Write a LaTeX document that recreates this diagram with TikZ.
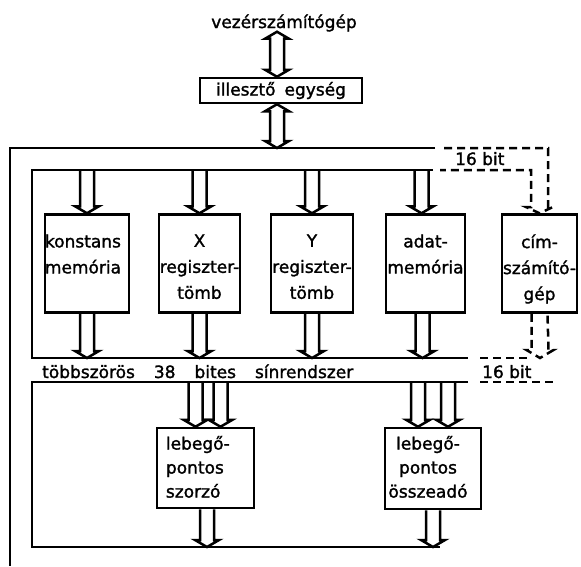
\documentclass[tikz,border=0pt]{standalone}
\usepackage{fontspec}
\newfontfamily\stencil[FakeBold=1.5]{DejaVu Sans}
\usetikzlibrary{calc}

\tikzset{
  busline/.style={line width=2.5pt},
  dashbus/.style={line width=2.5pt, dash pattern=on 8pt off 5pt},
  unit/.style={draw, line width=2.5pt, inner sep=0pt},
  lettering/.style={font=\stencil\fontsize{17pt}{26pt}\selectfont, inner sep=0pt, align=center}
}

% hollow bus arrow: y of start, tip
\newcommand{\busarrow}[2]{%
  \draw[busline] let \p1=(#1), \p2=(#2) in
    (\x2-7pt,\y1) -- (\x2-7pt,\y2+7pt) -- (\x2-12pt,\y2+7pt) -- (\x2,\y2)
    -- (\x2+12pt,\y2+7pt) -- (\x2+7pt,\y2+7pt) -- (\x2+7pt,\y1);}
% hollow arrow with two heads: upper tip, lower tip
\newcommand{\twowayarrow}[2]{%
  \draw[busline] let \p1=(#1), \p2=(#2) in
    (\x1,\y1) -- (\x1+12pt,\y1-7pt) -- (\x1+7pt,\y1-7pt) -- (\x1+7pt,\y2+7pt)
    -- (\x1+12pt,\y2+7pt) -- (\x1,\y2) -- (\x1-12pt,\y2+7pt) -- (\x1-7pt,\y2+7pt)
    -- (\x1-7pt,\y1-7pt) -- (\x1-12pt,\y1-7pt) -- cycle;}
\newcommand{\wordgap}{\hspace{19pt}}

\begin{document}
\begin{tikzpicture}[x=1pt,y=-1pt]
\useasboundingbox (0,0) rectangle (581,566);

% host and interface
\node[lettering, anchor=base] (host) at (284,28) {vezérszámítógép};
\node[unit, minimum width=162pt, minimum height=25pt] (ill) at (281,90.5) {\stencil\fontsize{17pt}{26pt}\selectfont illesztő\hspace{9pt}egység};
\coordinate (link) at ([xshift=-4pt]ill.center);

% bus system
\coordinate (oT) at (10,148);
\coordinate (iT) at (32,170);
\coordinate (mA) at (32,358);
\coordinate (mB) at (32,382);
\coordinate (iB) at (32,547);
\draw[busline] (435,148) -- (oT) -- (10,566);
\draw[busline] (433,170) -- (iT) -- (mA) -- (468,358);
\draw[busline] (468,382) -- (mB) -- (iB) -- (440,547);
\node[lettering, anchor=base west] (buslabel) at (42,378) {többszörös\wordgap 38\wordgap bites\wordgap sínrendszer};

\twowayarrow{link |- host.south}{link |- ill.north};
\twowayarrow{link |- ill.south}{link |- oT};

% units on the upper bus
\node[unit, minimum width=84pt, minimum height=98pt] (konst) at (87,263.5) {};
\node[unit, minimum width=81pt, minimum height=98pt] (xreg) at (199.5,263.5) {};
\node[unit, minimum width=82pt, minimum height=98pt] (yreg) at (312,263.5) {};
\node[unit, minimum width=79pt, minimum height=98pt] (adat) at (425.5,263.5) {};
\node[unit, minimum width=75pt, minimum height=98pt] (cim) at (539.5,263.5) {};
\node[lettering, align=left, anchor=north west] (konsttext) at ([shift={(1pt,-21pt)}]konst.north west) {konstans\\memória};
\node[lettering, anchor=north] (xtext) at ([yshift=-21pt]xreg.north) {X\\regiszter-\\tömb};
\node[lettering, anchor=north] (ytext) at ([yshift=-21pt]yreg.north) {Y\\regiszter-\\tömb};
\node[lettering, anchor=north] (adattext) at ([yshift=-21pt]adat.north) {adat-\\memória};
\node[lettering, anchor=north] (cimtext) at ([yshift=-21pt]cim.north) {cím-\\számító-\\gép};

\busarrow{iT}{konst.north};
\busarrow{iT}{xreg.north};
\busarrow{iT}{yreg.north};
\busarrow{iT}{[xshift=-4pt]adat.north};
\busarrow{konst.south}{konst.south |- mA};
\busarrow{xreg.south}{xreg.south |- mA};
\busarrow{yreg.south}{yreg.south |- mA};
\busarrow{adat.south}{[xshift=-3pt]adat.south |- mA};

% 16 bit address path
\draw[dashbus] (444,148) -- (548,148) -- (548,207) -- (553,207) -- (cim.north)
  -- (526,207) -- (531,207) -- (531,170) -- (440,170);
\node[lettering, anchor=base west] (bitup) at (455,165) {16 bit};
\draw[dashbus] ([xshift=-8pt]cim.south) -- (531.5,350) -- (526.5,350) -- (540,358)
  -- (553.5,350) -- (548.5,350) -- ([xshift=8pt]cim.south);
\draw[dashbus] (480,358) -- (528,358);
\draw[dashbus] (480,382) -- (553,382);
\node[lettering, anchor=base west] (bitdown) at (482,378) {16 bit};

% floating point units
\node[unit, minimum width=97pt, minimum height=80pt] (mult) at (205.5,468) {};
\node[unit, minimum width=96pt, minimum height=81pt] (adder) at (433,468.5) {};
\node[lettering, font=\stencil\fontsize{17pt}{24pt}\selectfont, align=left, anchor=north west] (multtext) at ([shift={(10pt,-9pt)}]mult.north west) {lebegő-\\pontos\\szorzó};
\node[lettering, font=\stencil\fontsize{17pt}{24pt}\selectfont, anchor=north] (addtext) at ([shift={(-5pt,-9pt)}]adder.north) {lebegő-\\pontos\\összeadó};

\busarrow{mB}{[xshift=-10pt]mult.north};
\busarrow{mB}{[xshift=15pt]mult.north};
\busarrow{mB}{[xshift=-15pt]adder.north};
\busarrow{mB}{[xshift=15pt]adder.north};
\busarrow{mult.south}{[xshift=1.5pt]mult.south |- iB};
\busarrow{adder.south}{adder.south |- iB};
\end{tikzpicture}
\end{document}
